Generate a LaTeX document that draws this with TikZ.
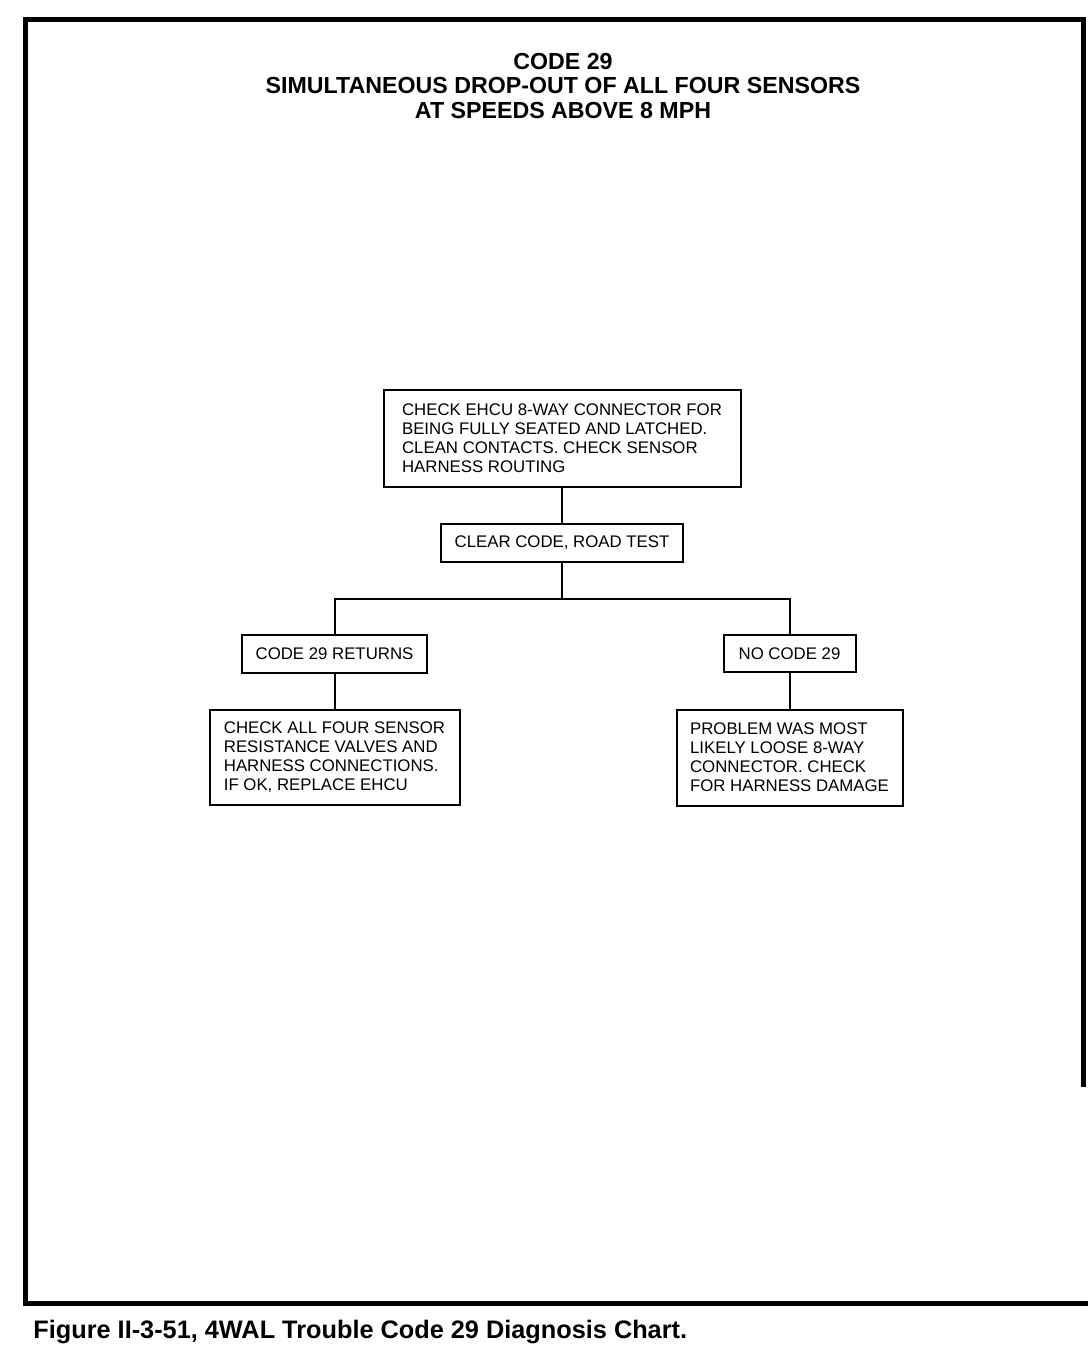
\documentclass[tikz,border=0pt]{standalone}
\usepackage{fontspec}
\setmainfont{Liberation Sans}
\usetikzlibrary{trees}

\begin{document}
\begin{tikzpicture}[%
			x=0.5pt, y=-0.5pt,
			level 1/.style={level distance=52pt},
			level 2/.style={level distance=55.5pt, sibling distance=227.5pt},
			level 3/.style={level distance=52pt},
			every node/.style={align=left, font=\fontsize{8.4}{9.5}\selectfont},
			chart/.style={draw, line width=1pt, inner sep=2pt},
			edge from parent/.style={draw, line width=1pt},
			edge from parent path={(\tikzparentnode.south) -- +(0pt,-18pt) -| (\tikzchildnode.north)}
			]
			\useasboundingbox (0,0) rectangle (1088,1360);
			% frame round the chart
			\draw[line width=2.5pt] (1083.5,1087) -- (1083.5,19) -- (25.5,19) -- (25.5,1303) -- (1088,1303);
			\node[align=center, font=\bfseries\fontsize{11.6}{12.25}\selectfont] (title) at (563,86)
				{CODE 29\\ SIMULTANEOUS DROP-OUT OF ALL FOUR SENSORS\\ AT SPEEDS ABOVE 8 MPH};
			\node[chart, minimum width=178.5pt, minimum height=48.5pt] (1) at (562,438.5)
				{CHECK EHCU 8-WAY CONNECTOR FOR\\ BEING FULLY SEATED AND LATCHED.\\ CLEAN CONTACTS. CHECK SENSOR\\ HARNESS ROUTING}
				child { node[chart, minimum width=121pt, minimum height=19pt] (2) {CLEAR CODE, ROAD TEST}
					child { node[chart, minimum width=92.5pt, minimum height=19pt] (3) {CODE 29 RETURNS}
						child { node[chart, minimum width=125pt, minimum height=47.5pt] (3sub1)
							{CHECK ALL FOUR SENSOR\\ RESISTANCE VALVES AND\\ HARNESS CONNECTIONS.\\ IF OK, REPLACE EHCU}}
					}
					child { node[chart, minimum width=66pt, minimum height=18.5pt] (4) {NO CODE 29}
						child { node[chart, minimum width=113pt, minimum height=48pt] (4sub1)
							{PROBLEM WAS MOST\\ LIKELY LOOSE 8-WAY\\ CONNECTOR. CHECK\\ FOR HARNESS DAMAGE}}
					}
				};
			\node[anchor=base west, inner sep=0pt, font=\bfseries\fontsize{12.65}{14}\selectfont] (caption) at (33,1338)
				{Figure II-3-51, 4WAL Trouble Code 29 Diagnosis Chart.};
		\end{tikzpicture}
\end{document}
